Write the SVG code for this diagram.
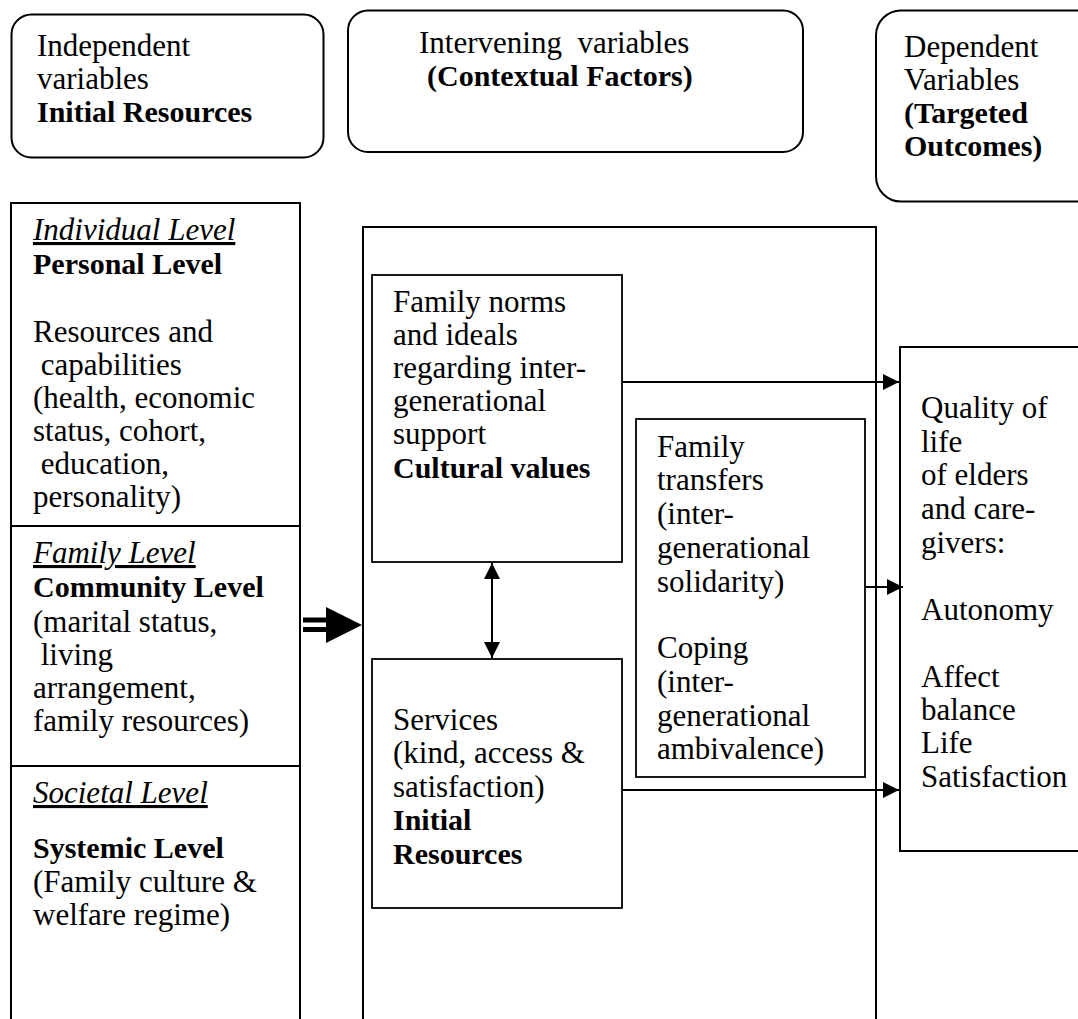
<svg xmlns="http://www.w3.org/2000/svg" width="1078" height="1019" viewBox="0 0 1078 1019">
  <style>
    .t { font-family: "Liberation Serif", "Times New Roman", serif; font-size: 31px; fill: #000; }
    .b { font-weight: bold; font-size: 30px; }
    .iu { font-style: italic; text-decoration: underline; }
    .box { fill: #fff; stroke: #000; stroke-width: 2; }
    .frame { fill: none; stroke: #000; stroke-width: 2; }
    .inner { fill: #fff; stroke: #000; stroke-width: 1.8; }
    .conn { fill: none; stroke: #000; stroke-width: 2; }
  </style>
  <defs>
    <marker id="arrow" viewBox="0 0 16 16" refX="16" refY="8" markerWidth="16" markerHeight="16" markerUnits="userSpaceOnUse" orient="auto-start-reverse">
      <path d="M0,0 L16,8 L0,16 z" fill="#000"/>
    </marker>
  </defs>
  <rect width="1078" height="1019" fill="#fff"/>

  <!-- Column headers -->
  <g id="header-independent">
    <rect class="box" x="11.5" y="14.5" width="312" height="143" rx="20"/>
    <text class="t" x="37" y="56">Independent</text>
    <text class="t" x="37" y="89">variables</text>
    <text class="t b" x="37" y="122">Initial Resources</text>
  </g>
  <g id="header-intervening">
    <rect class="box" x="348" y="10.5" width="455" height="141.5" rx="20"/>
    <text class="t" x="419" y="53" xml:space="preserve">Intervening  variables</text>
    <text class="t b" x="427" y="86">(Contextual Factors)</text>
  </g>
  <g id="header-dependent">
    <rect class="box" x="876" y="10.5" width="260" height="191" rx="25"/>
    <text class="t" x="904" y="57">Dependent</text>
    <text class="t" x="904" y="90">Variables</text>
    <text class="t b" x="904" y="123">(Targeted</text>
    <text class="t b" x="904" y="156">Outcomes)</text>
  </g>

  <!-- Initial resources: three levels -->
  <g id="initial-resources">
    <path class="frame" d="M11,1030 V203 H300 V1030"/>
    <line class="frame" x1="11" y1="526" x2="300" y2="526"/>
    <line class="frame" x1="11" y1="766" x2="300" y2="766"/>
    <g id="level-individual">
      <text class="t iu" x="33" y="240">Individual Level</text>
      <text class="t b" x="33" y="274">Personal Level</text>
      <text class="t" x="33" y="342">Resources and</text>
      <text class="t" x="33" y="375" xml:space="preserve"> capabilities</text>
      <text class="t" x="33" y="408">(health, economic</text>
      <text class="t" x="33" y="441">status, cohort,</text>
      <text class="t" x="33" y="474" xml:space="preserve"> education,</text>
      <text class="t" x="33" y="507">personality)</text>
    </g>
    <g id="level-family">
      <text class="t iu" x="33" y="563">Family Level</text>
      <text class="t b" x="33" y="597">Community Level</text>
      <text class="t" x="33" y="632">(marital status,</text>
      <text class="t" x="33" y="665" xml:space="preserve"> living</text>
      <text class="t" x="33" y="698">arrangement,</text>
      <text class="t" x="33" y="731">family resources)</text>
    </g>
    <g id="level-societal">
      <text class="t iu" x="33" y="803">Societal Level</text>
      <text class="t b" x="33" y="858">Systemic Level</text>
      <text class="t" x="33" y="892">(Family culture &amp;</text>
      <text class="t" x="33" y="925">welfare regime)</text>
    </g>
  </g>

  <!-- Contextual factors frame -->
  <g id="contextual-factors">
    <path class="frame" d="M363,1030 V227 H876 V1030"/>
  </g>

  <g id="family-norms">
    <rect class="inner" x="372" y="275" width="250" height="287"/>
    <text class="t" x="393" y="312">Family norms</text>
    <text class="t" x="393" y="345">and ideals</text>
    <text class="t" x="393" y="378">regarding inter-</text>
    <text class="t" x="393" y="411">generational</text>
    <text class="t" x="393" y="444">support</text>
    <text class="t b" x="393" y="478">Cultural values</text>
  </g>

  <g id="services">
    <rect class="inner" x="372" y="659" width="250" height="249"/>
    <text class="t" x="393" y="730">Services</text>
    <text class="t" x="393" y="763">(kind, access &amp;</text>
    <text class="t" x="393" y="797">satisfaction)</text>
    <text class="t b" x="393" y="830">Initial</text>
    <text class="t b" x="393" y="864">Resources</text>
  </g>

  <g id="family-transfers">
    <rect class="inner" x="636" y="419" width="229" height="358"/>
    <text class="t" x="657" y="457">Family</text>
    <text class="t" x="657" y="490">transfers</text>
    <text class="t" x="657" y="524">(inter-</text>
    <text class="t" x="657" y="558">generational</text>
    <text class="t" x="657" y="592">solidarity)</text>
    <text class="t" x="657" y="658">Coping</text>
    <text class="t" x="657" y="692">(inter-</text>
    <text class="t" x="657" y="726">generational</text>
    <text class="t" x="657" y="759">ambivalence)</text>
  </g>

  <!-- Targeted outcomes -->
  <g id="outcomes">
    <path class="box" d="M1090,347 H900 V851 H1090"/>
    <text class="t" x="921" y="418">Quality of</text>
    <text class="t" x="921" y="452">life</text>
    <text class="t" x="921" y="485">of elders</text>
    <text class="t" x="921" y="519">and care-</text>
    <text class="t" x="921" y="553">givers:</text>
    <text class="t" x="921" y="620">Autonomy</text>
    <text class="t" x="921" y="687">Affect</text>
    <text class="t" x="921" y="720">balance</text>
    <text class="t" x="921" y="753">Life</text>
    <text class="t" x="921" y="787">Satisfaction</text>
  </g>

  <!-- Connectors -->
  <g id="connectors">
    <g id="resources-to-context">
      <rect x="303" y="617.5" width="25" height="5" fill="#000"/>
      <rect x="303" y="627" width="25" height="5" fill="#000"/>
      <polygon points="326,607 362,625 326,643" fill="#000"/>
    </g>
    <line class="conn" x1="622" y1="382" x2="899" y2="382" marker-end="url(#arrow)"/>
    <line class="conn" x1="865" y1="587" x2="903" y2="587" marker-end="url(#arrow)"/>
    <line class="conn" x1="622" y1="790" x2="899" y2="790" marker-end="url(#arrow)"/>
    <line class="conn" x1="492" y1="563" x2="492" y2="658" marker-start="url(#arrow)" marker-end="url(#arrow)"/>
  </g>
</svg>
